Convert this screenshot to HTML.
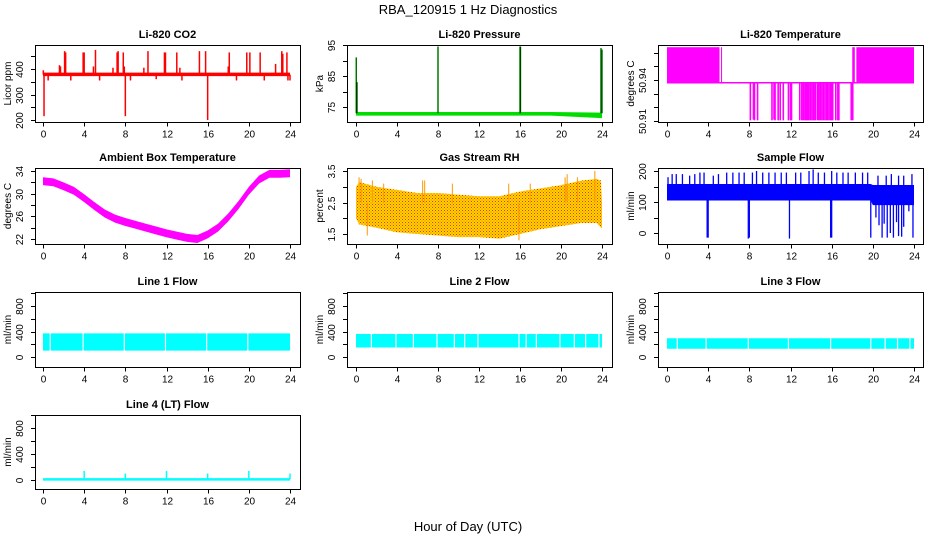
<!DOCTYPE html>
<html><head><meta charset="utf-8"><style>
html,body{margin:0;padding:0;background:#fff}
svg{display:block;font-family:"Liberation Sans",sans-serif}
</style></head><body>
<svg id="chart" width="936" height="540" viewBox="0 0 936 540">
<defs>
<pattern id="rhpat" width="3" height="3" patternUnits="userSpaceOnUse">
<rect width="3" height="3" fill="#ffd800"/><rect width="1" height="1" fill="#f03010"/><rect x="1.5" y="1.5" width="1" height="1" fill="#f05010"/>
</pattern>
</defs>
<text x="468" y="14" text-anchor="middle" font-size="13">RBA_120915  1 Hz Diagnostics</text>
<text x="468" y="531" text-anchor="middle" font-size="13">Hour of Day (UTC)</text>
</svg>
<script>
// ---- data arrays ----
const xTicks=[0,4,8,12,16,20,24];
// CO2
const co2BandHours=[0,24];
const co2BandLow=[372,372];
const co2BandHigh=[386,386];
const co2SpikeHours=[0.03,0.1,0.5,1.6,1.7,2.1,2.2,2.7,3.9,4.0,4.9,5.1,5.5,6.8,7.2,7.3,7.8,7.9,8.0,8.5,9.8,10.2,11.0,11.8,11.9,13.0,13.3,13.5,15.2,15.8,16.0,18.0,18.1,18.8,19.8,20.1,21.1,21.5,22.6,23.2,23.3,23.7,23.8,24.0];
const co2SpikeValues=[395,215,355,415,410,470,465,355,465,465,410,475,355,405,465,470,465,410,215,355,405,470,360,465,465,465,405,355,470,470,200,410,465,355,465,465,465,355,420,470,460,465,355,355];
// Pressure
const presBandHours=[0,19,24];
const presBandLow=[72.2,72.2,71.4];
const presBandHigh=[73.4,73.4,73.2];
const presSpikeHours=[0.02,0.1,8.0,16.0,16.05,23.9,24.0];
const presSpikeValues=[91,83,94.5,94.5,94.5,94,93.5];
// Li-820 temperature
const tempBlockStart=[0,5.25,18.0,18.4];
const tempBlockEnd=[5.1,5.35,18.25,24];
const tempBlockTop=50.964;
const tempBase=50.938;
const tempDipHours=[8.1,8.4,8.5,8.8,10.2,10.4,10.5,10.8,11.0,11.3,11.8,12.0,12.1,12.9,13.1,13.25,13.4,13.5,13.6,13.7,13.8,13.95,14.1,14.25,14.4,14.6,14.75,14.9,15.05,15.2,15.35,15.5,15.6,15.75,15.9,16.0,16.1,16.4,16.6,16.7,17.9,18.05];
const tempDipValues=[50.9105,50.911,50.9105,50.9105,50.9105,50.911,50.9105,50.9105,50.9105,50.9105,50.9105,50.9105,50.9105,50.9105,50.9105,50.9105,50.9105,50.9105,50.9105,50.9105,50.9105,50.9105,50.9105,50.9105,50.9105,50.9105,50.9105,50.9105,50.9105,50.9105,50.9105,50.9105,50.9105,50.9105,50.9105,50.9105,50.9105,50.9105,50.9105,50.9105,50.9105,50.9105];
// Ambient box temperature
const ambHours=[0,1,2,3,4,5,6,7,8,9,10,11,12,13,14,15,16,17,18,19,20,21,22,23,24];
const ambValues=[32.2,32.0,31.3,30.5,29.2,27.8,26.5,25.6,25.0,24.5,24.0,23.5,23.0,22.6,22.2,22.0,22.8,24.0,25.8,28.0,30.5,32.5,33.5,33.5,33.6];
// Gas stream RH
const rhHours=[0,0.3,2,4,6,8,10,12,14,16,18,20,22,23.5,23.9,24];
const rhHigh=[3.0,3.15,3.0,2.9,2.8,2.8,2.75,2.7,2.7,2.85,2.95,3.05,3.2,3.25,3.2,2.5];
const rhLow=[2.0,1.8,1.7,1.55,1.5,1.45,1.4,1.4,1.35,1.5,1.65,1.75,1.85,1.85,1.7,1.7];
const rhSpikeHours=[0.3,0.5,1.1,1.6,2.7,6.5,6.7,9.4,14.9,15.9,17.0,20.4,20.6,21.6,23.3];
const rhSpikeValues=[3.3,3.25,1.45,3.2,3.1,3.2,3.2,3.1,3.1,1.3,3.1,3.3,3.4,3.3,3.5];
// Sample flow
const flowBandHours=[0,19.8,20,24];
const flowBandLow=[105,105,90,90];
const flowBandHigh=[158,158,155,155];
const flowSpikeHours=[0.1,0.5,0.9,1.5,2.2,2.7,3.2,3.6,4.5,5.0,5.8,6.4,7.0,7.5,8.3,8.7,9.3,9.9,10.5,11.1,11.6,12.5,13.0,13.8,14.2,14.7,15.3,16.0,16.5,17.1,17.6,18.3,19.0,19.5,20.5,21.3,21.8,22.5,23.0,23.8,3.9,4.0,7.9,8.0,11.9,15.9,16.0,19.8,20.3,20.6,20.9,21.1,21.4,21.7,22.0,22.3,22.5,22.8,23.0,23.5,23.9];
const flowSpikeValues=[180,190,190,190,185,190,195,195,185,190,195,195,195,195,195,200,195,195,195,195,195,195,195,200,205,195,195,200,195,195,195,195,195,195,185,185,190,185,185,190,-15,-15,-18,-15,-18,-15,-15,-15,50,25,-15,30,-15,0,-15,35,-10,-12,20,70,-15];
// Line flows
const line1Low=100, line1High=370;
const line1Gaps=[0.7,3.9,7.9,11.9,15.9,19.9];
const line2Low=150, line2High=360;
const line2Gaps=[1.5,3.9,5.6,7.9,9.6,10.6,11.9,15.9,16.6,17.6,19.9,21.3,22.4,23.7];
const line3Low=130, line3High=295;
const line3Gaps=[1.0,3.8,7.9,11.8,15.9,19.8,21.2,22.4,23.6];
const line4Base=10;
const line4SpikeHours=[4,8,12,16,20,24];
const line4SpikeValues=[140,100,140,100,140,100];

// ---- layout ----
const svg=document.getElementById('chart');
const NS='http://www.w3.org/2000/svg';
const cols=[{bx:35,bw:265,x0:43,x24:290},{bx:347,bw:265,x0:356,x24:602},{bx:658,bw:265,x0:667,x24:914}];
const rows=[{by:45,bh:77},{by:168,bh:76},{by:292,bh:75},{by:415,bh:74}];
function el(tag,attrs,parent){const e=document.createElementNS(NS,tag);for(const k in attrs)e.setAttribute(k,attrs[k]);(parent||svg).appendChild(e);return e;}

function panel(name,title,ylab,r,c,ya,pa,yb,pb,ticks,labels){
  const C=cols[c],R=rows[r];
  const g=el('g',{});
  
  
  const xs=h=>C.x0+(C.x24-C.x0)*h/24;
  const ys=v=>pa+(pb-pa)*(v-ya)/(yb-ya);
  const clip=el('clipPath',{id:'clip-'+name},g);
  el('rect',{x:C.bx,y:R.by,width:C.bw,height:R.bh},clip);
  const plot=el('g',{'clip-path':'url(#clip-'+name+')'},g);
  
  
  const box=el('rect',{x:C.bx+0.5,y:R.by+0.5,width:C.bw,height:R.bh,fill:'none',stroke:'#000','stroke-width':1},g);
  
  
  const t=el('text',{x:C.bx+C.bw/2,y:R.by-7,'text-anchor':'middle','font-size':11,'font-weight':'bold'},g);
  t.textContent=title;
  
  
  const yb2=R.by+R.bh+0.5;
  xTicks.forEach(h=>{
    const x=Math.round(xs(h))+0.5;
    el('line',{x1:x,x2:x,y1:yb2,y2:yb2+4,stroke:'#000'},g);
    const tx=el('text',{x:x,y:yb2+15,'text-anchor':'middle','font-size':10},g);
    tx.textContent=h;
    
    
  });
  ticks.forEach(v=>{
    const y=Math.round(ys(v))+0.5;
    el('line',{x1:C.bx-4,x2:C.bx,y1:y,y2:y,stroke:'#000'},g);
    if(labels.indexOf(v)>=0){
      const tx=el('text',{x:0,y:0,'text-anchor':'middle','font-size':10,transform:'translate('+(C.bx-12)+','+y+') rotate(-90)'},g);
      tx.textContent=String(v);
      
      
    }
  });
  const yl=el('text',{x:0,y:0,'text-anchor':'middle','font-size':10,transform:'translate('+(C.bx-24)+','+(R.by+R.bh/2)+') rotate(-90)'},g);
  yl.textContent=ylab;
  
  
  return {xs,ys,plot,C,R};
}
function band(p,hours,lo,hi,fill,name){
  let d='M'+hours.map((h,i)=>p.xs(h)+','+p.ys(hi[i])).join('L');
  d+='L'+hours.slice().reverse().map((h,i)=>p.xs(h)+','+p.ys(lo[hours.length-1-i])).join('L')+'Z';
  const e=el('path',{d:d,fill:fill},p.plot);
  
  
}
function spikes(p,hours,vals,base,color,w,name){
  hours.forEach((h,i)=>{
    const e=el('line',{x1:p.xs(h),x2:p.xs(h),y1:p.ys(base),y2:p.ys(vals[i]),stroke:color,'stroke-width':w},p.plot);
    
    
  });
}

// CO2
let p=panel('co2-panel','Li-820 CO2','Licor ppm',0,0,200,120,400,69,[200,250,300,350,400,450],[200,300,400]);
band(p,co2BandHours,co2BandLow,co2BandHigh,'#ff0000','co2-baseline');
spikes(p,co2SpikeHours,co2SpikeValues,378,'#ff0000',1.5,'co2-spike');

// Pressure
p=panel('pressure-panel','Li-820 Pressure','kPa',0,1,75,107,95,45,[75,80,85,90,95],[75,85,95]);
band(p,presBandHours,presBandLow,presBandHigh,'#00dd00','pressure-baseline');
spikes(p,presSpikeHours,presSpikeValues,73,'#00cc00',1.5,'pressure-spike');
spikes(p,presSpikeHours,presSpikeValues,73,'#000',0.6,'pressure-spike-dotted');

// Li-820 temperature
p=panel('li820-temp-panel','Li-820 Temperature','degrees C',0,2,50.91,121,50.94,80,[50.91,50.92,50.93,50.94,50.95,50.96],[50.91,50.94]);
tempBlockStart.forEach((s,i)=>{
  const e=el('rect',{x:p.xs(s),y:p.ys(tempBlockTop),width:p.xs(tempBlockEnd[i])-p.xs(s),height:p.ys(tempBase)-p.ys(tempBlockTop),fill:'#ff00ff'},p.plot);
  
  
});
{const e=el('line',{x1:p.xs(0),x2:p.xs(24),y1:p.ys(tempBase),y2:p.ys(tempBase),stroke:'#ff00ff','stroke-width':1.5},p.plot);

}
spikes(p,tempDipHours,tempDipValues,tempBase,'#ff00ff',1.6,'temp-dip');

// Ambient
p=panel('ambient-temp-panel','Ambient Box Temperature','degrees C',1,0,22,239,34,171,[22,24,26,28,30,32,34],[22,26,30,34]);
band(p,ambHours,ambValues.map(v=>v-0.7),ambValues.map(v=>v+0.7),'#ff00ff','ambient-temp-band');

// RH
p=panel('rh-panel','Gas Stream RH','percent',1,1,1.5,234,3.5,171,[1.5,2,2.5,3,3.5],[1.5,2.5,3.5]);
band(p,rhHours,rhLow,rhHigh,'url(#rhpat)','rh-band');
spikes(p,rhSpikeHours,rhSpikeValues,2.5,'#ff9900',1,'rh-spike');

// Sample flow
p=panel('sample-flow-panel','Sample Flow','ml/min',1,2,0,233,200,171,[0,50,100,150,200],[0,100,200]);
band(p,flowBandHours,flowBandLow,flowBandHigh,'#0000ff','sample-flow-band');
spikes(p,flowSpikeHours,flowSpikeValues,130,'#0000ff',1.3,'sample-flow-spike');

// Line flows
function lineFlow(name,title,r,c,lo,hi,gaps){
  const q=panel(name,title,'ml/min',r,c,0,r==2?357:480,800,r==2?306:428,[0,200,400,600,800,1000],[0,400,800]);
  band(q,[0,24],[lo,lo],[hi,hi],'#00ffff',name+'-band');
  gaps.forEach(h=>{
    const e=el('line',{x1:q.xs(h),x2:q.xs(h),y1:q.ys(hi),y2:q.ys(lo),stroke:'#fff','stroke-width':1.2},q.plot);
    
    
  });
  return q;
}
lineFlow('line1-flow-panel','Line 1 Flow',2,0,line1Low,line1High,line1Gaps);
lineFlow('line2-flow-panel','Line 2 Flow',2,1,line2Low,line2High,line2Gaps);
lineFlow('line3-flow-panel','Line 3 Flow',2,2,line3Low,line3High,line3Gaps);
p=panel('line4-flow-panel','Line 4 (LT) Flow','ml/min',3,0,0,480,800,428,[0,200,400,600,800,1000],[0,400,800]);
{const e=el('line',{x1:p.xs(0),x2:p.xs(24),y1:p.ys(line4Base),y2:p.ys(line4Base),stroke:'#00ffff','stroke-width':2.5},p.plot);

}
spikes(p,line4SpikeHours,line4SpikeValues,line4Base,'#00ffff',1.5,'line4-spike');
</script>
</body></html>
